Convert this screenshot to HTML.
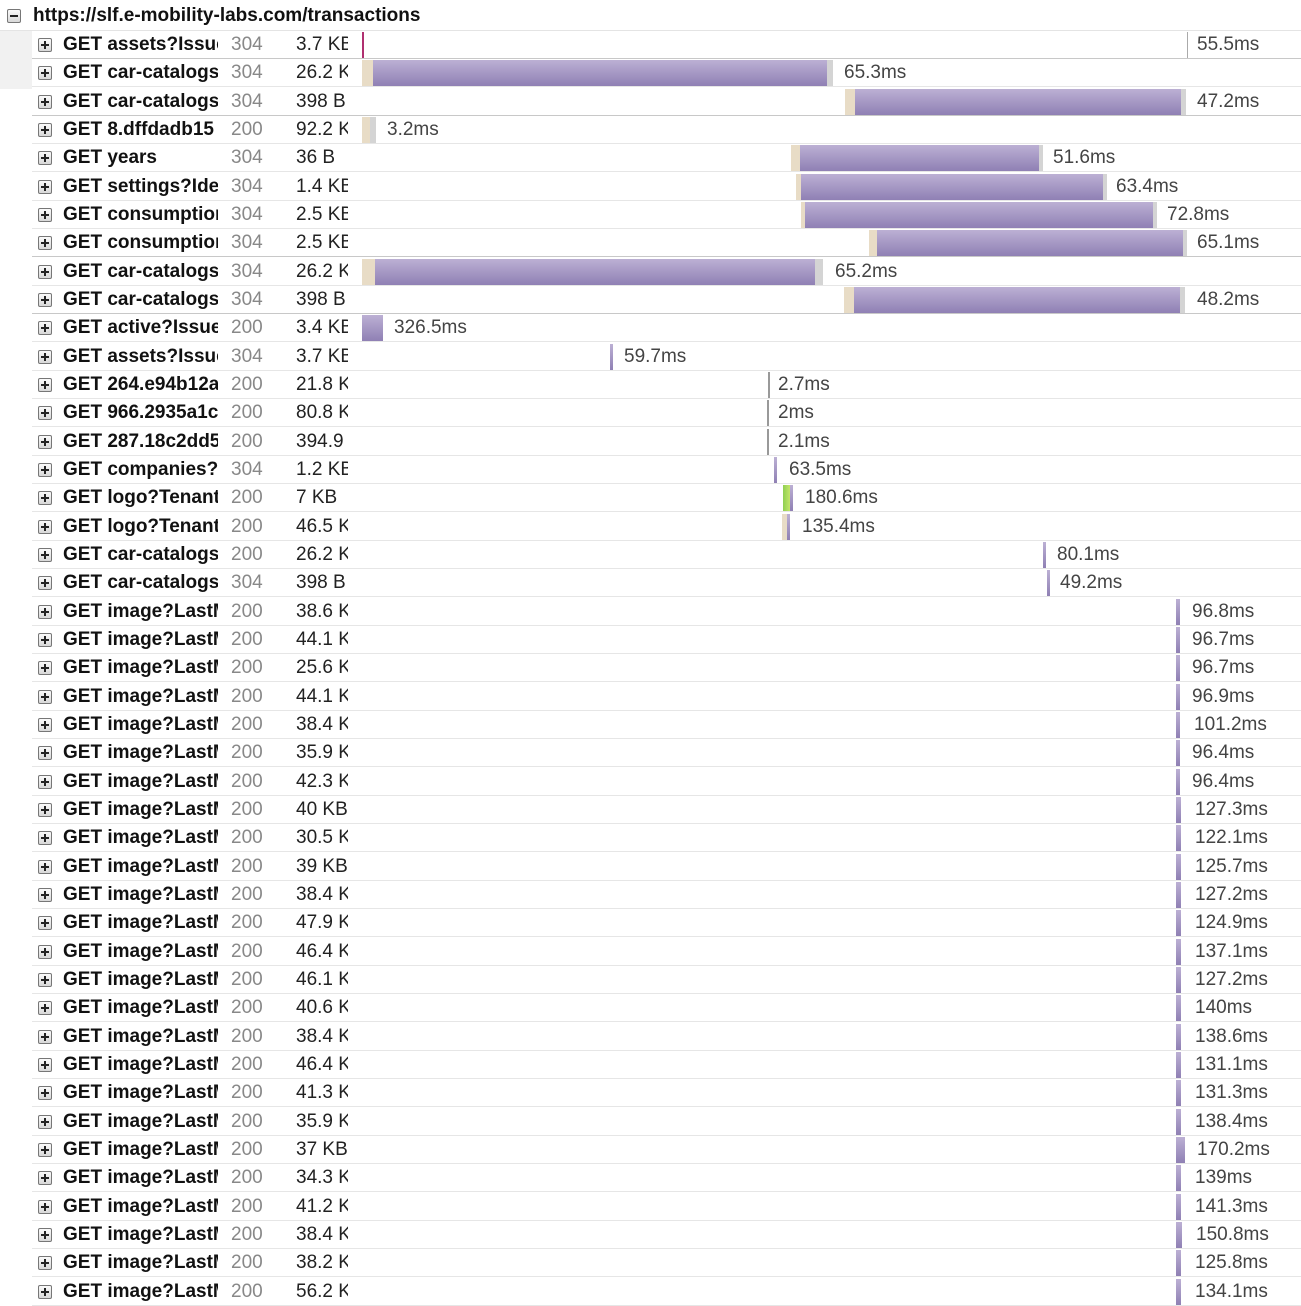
<!DOCTYPE html>
<html><head><meta charset="utf-8"><style>
body{margin:0;width:1301px;height:1302px;overflow:hidden;background:#fff;font-family:"Liberation Sans",sans-serif;position:relative}
.hd{position:absolute;left:0;top:0;width:1301px;height:30px;border-bottom:1px solid #e4e4e4}
.hd b{position:absolute;left:33px;top:5px;font-size:19px;color:#111}
.ic{position:absolute;width:12px;height:12px;border:1px solid #777;background:linear-gradient(#fafafa,#d8d8d8);border-radius:2px}
.ic:before{content:"";position:absolute;left:2px;top:5px;width:8px;height:2px;background:#222}
.ic.p:after{content:"";position:absolute;left:5px;top:2px;width:2px;height:8px;background:#222}
.r{position:absolute;left:32px;width:1269px;height:28px;border-bottom:1px solid #e6e6e6;font-size:19px;line-height:29px}
.r.d{border-bottom-color:#c8c8c8}
.r .ic{left:6px;top:8px}
.n{position:absolute;left:31px;width:155px;overflow:hidden;white-space:nowrap;font-weight:bold;color:#111}
.s{position:absolute;left:199px;color:#888}
.z{position:absolute;left:264px;width:52px;overflow:hidden;white-space:nowrap;color:#222}
.t{position:absolute;color:#444}
.w{position:absolute;top:2px;height:26px;background:#e8dcc6}
.pu{position:absolute;top:2px;height:26px;background:linear-gradient(#bcb0d4,#8f80b4)}
.g{position:absolute;top:2px;height:26px;background:#d4d4d4}
.gr{position:absolute;top:2px;height:26px;background:linear-gradient(90deg,#8fcf52,#c4e66a)}
</style></head><body>
<div style="position:absolute;left:0;top:31px;width:32px;height:58px;background:#f1f1f1"></div>
<div class="hd"><span class="ic" style="left:7px;top:9px"></span><b>https://slf.e-mobility-labs.com/transactions</b></div>

<div class="r d" style="top:30px"><span class="ic p"></span><span class="n">GET assets?IssuerId</span><span class="s">304</span><span class="z">3.7 KB</span><div class="pu" style="left:330px;width:2px;background:#b03070"></div><div class="g" style="left:1155px;width:1px;background:#aaa"></div><span class="t" style="left:1165px">55.5ms</span></div>
<div class="r" style="top:58px"><span class="ic p"></span><span class="n">GET car-catalogs</span><span class="s">304</span><span class="z">26.2 KB</span><div class="w" style="left:330px;width:11px"></div><div class="pu" style="left:341px;width:454px"></div><div class="g" style="left:795px;width:6px"></div><span class="t" style="left:812px">65.3ms</span></div>
<div class="r d" style="top:87px"><span class="ic p"></span><span class="n">GET car-catalogs</span><span class="s">304</span><span class="z">398 B</span><div class="w" style="left:813px;width:10px"></div><div class="pu" style="left:823px;width:326px"></div><div class="g" style="left:1149px;width:5px"></div><span class="t" style="left:1165px">47.2ms</span></div>
<div class="r" style="top:115px"><span class="ic p"></span><span class="n">GET 8.dffdadb15</span><span class="s">200</span><span class="z">92.2 KB</span><div class="w" style="left:330px;width:8px"></div><div class="g" style="left:338px;width:6px"></div><span class="t" style="left:355px">3.2ms</span></div>
<div class="r" style="top:143px"><span class="ic p"></span><span class="n">GET years</span><span class="s">304</span><span class="z">36 B</span><div class="w" style="left:759px;width:9px"></div><div class="pu" style="left:768px;width:239px"></div><div class="g" style="left:1007px;width:4px"></div><span class="t" style="left:1021px">51.6ms</span></div>
<div class="r" style="top:172px"><span class="ic p"></span><span class="n">GET settings?Identifier</span><span class="s">304</span><span class="z">1.4 KB</span><div class="w" style="left:764px;width:5px"></div><div class="pu" style="left:769px;width:302px"></div><div class="g" style="left:1071px;width:4px"></div><span class="t" style="left:1084px">63.4ms</span></div>
<div class="r" style="top:200px"><span class="ic p"></span><span class="n">GET consumption</span><span class="s">304</span><span class="z">2.5 KB</span><div class="w" style="left:769px;width:4px"></div><div class="pu" style="left:773px;width:348px"></div><div class="g" style="left:1121px;width:4px"></div><span class="t" style="left:1135px">72.8ms</span></div>
<div class="r d" style="top:228px"><span class="ic p"></span><span class="n">GET consumption</span><span class="s">304</span><span class="z">2.5 KB</span><div class="w" style="left:837px;width:8px"></div><div class="pu" style="left:845px;width:306px"></div><div class="g" style="left:1151px;width:4px"></div><span class="t" style="left:1165px">65.1ms</span></div>
<div class="r" style="top:257px"><span class="ic p"></span><span class="n">GET car-catalogs</span><span class="s">304</span><span class="z">26.2 KB</span><div class="w" style="left:330px;width:13px"></div><div class="pu" style="left:343px;width:440px"></div><div class="g" style="left:783px;width:8px"></div><span class="t" style="left:803px">65.2ms</span></div>
<div class="r d" style="top:285px"><span class="ic p"></span><span class="n">GET car-catalogs</span><span class="s">304</span><span class="z">398 B</span><div class="w" style="left:812px;width:10px"></div><div class="pu" style="left:822px;width:326px"></div><div class="g" style="left:1148px;width:5px"></div><span class="t" style="left:1165px">48.2ms</span></div>
<div class="r" style="top:313px"><span class="ic p"></span><span class="n">GET active?IssuerId</span><span class="s">200</span><span class="z">3.4 KB</span><div class="pu" style="left:330px;width:21px"></div><span class="t" style="left:362px">326.5ms</span></div>
<div class="r" style="top:342px"><span class="ic p"></span><span class="n">GET assets?IssuerId</span><span class="s">304</span><span class="z">3.7 KB</span><div class="pu" style="left:578px;width:3px"></div><span class="t" style="left:592px">59.7ms</span></div>
<div class="r" style="top:370px"><span class="ic p"></span><span class="n">GET 264.e94b12a</span><span class="s">200</span><span class="z">21.8 KB</span><div class="g" style="left:736px;width:2px;background:#999"></div><span class="t" style="left:746px">2.7ms</span></div>
<div class="r" style="top:398px"><span class="ic p"></span><span class="n">GET 966.2935a1c</span><span class="s">200</span><span class="z">80.8 KB</span><div class="g" style="left:735px;width:2px;background:#999"></div><span class="t" style="left:746px">2ms</span></div>
<div class="r" style="top:427px"><span class="ic p"></span><span class="n">GET 287.18c2dd5</span><span class="s">200</span><span class="z">394.9 B</span><div class="g" style="left:735px;width:2px;background:#999"></div><span class="t" style="left:746px">2.1ms</span></div>
<div class="r" style="top:455px"><span class="ic p"></span><span class="n">GET companies?</span><span class="s">304</span><span class="z">1.2 KB</span><div class="pu" style="left:742px;width:3px"></div><span class="t" style="left:757px">63.5ms</span></div>
<div class="r" style="top:483px"><span class="ic p"></span><span class="n">GET logo?TenantId</span><span class="s">200</span><span class="z">7 KB</span><div class="gr" style="left:751px;width:7px"></div><div class="pu" style="left:758px;width:3px"></div><span class="t" style="left:773px">180.6ms</span></div>
<div class="r" style="top:512px"><span class="ic p"></span><span class="n">GET logo?TenantId</span><span class="s">200</span><span class="z">46.5 KB</span><div class="w" style="left:750px;width:5px"></div><div class="pu" style="left:755px;width:3px"></div><span class="t" style="left:770px">135.4ms</span></div>
<div class="r" style="top:540px"><span class="ic p"></span><span class="n">GET car-catalogs</span><span class="s">200</span><span class="z">26.2 KB</span><div class="pu" style="left:1011px;width:3px"></div><span class="t" style="left:1025px">80.1ms</span></div>
<div class="r" style="top:568px"><span class="ic p"></span><span class="n">GET car-catalogs</span><span class="s">304</span><span class="z">398 B</span><div class="pu" style="left:1015px;width:3px"></div><span class="t" style="left:1028px">49.2ms</span></div>
<div class="r" style="top:597px"><span class="ic p"></span><span class="n">GET image?LastMod</span><span class="s">200</span><span class="z">38.6 KB</span><div class="pu" style="left:1144px;width:4px"></div><span class="t" style="left:1160px">96.8ms</span></div>
<div class="r" style="top:625px"><span class="ic p"></span><span class="n">GET image?LastMod</span><span class="s">200</span><span class="z">44.1 KB</span><div class="pu" style="left:1144px;width:4px"></div><span class="t" style="left:1160px">96.7ms</span></div>
<div class="r" style="top:653px"><span class="ic p"></span><span class="n">GET image?LastMod</span><span class="s">200</span><span class="z">25.6 KB</span><div class="pu" style="left:1144px;width:4px"></div><span class="t" style="left:1160px">96.7ms</span></div>
<div class="r" style="top:682px"><span class="ic p"></span><span class="n">GET image?LastMod</span><span class="s">200</span><span class="z">44.1 KB</span><div class="pu" style="left:1144px;width:4px"></div><span class="t" style="left:1160px">96.9ms</span></div>
<div class="r" style="top:710px"><span class="ic p"></span><span class="n">GET image?LastMod</span><span class="s">200</span><span class="z">38.4 KB</span><div class="pu" style="left:1144px;width:4px"></div><span class="t" style="left:1162px">101.2ms</span></div>
<div class="r" style="top:738px"><span class="ic p"></span><span class="n">GET image?LastMod</span><span class="s">200</span><span class="z">35.9 KB</span><div class="pu" style="left:1144px;width:4px"></div><span class="t" style="left:1160px">96.4ms</span></div>
<div class="r" style="top:767px"><span class="ic p"></span><span class="n">GET image?LastMod</span><span class="s">200</span><span class="z">42.3 KB</span><div class="pu" style="left:1144px;width:4px"></div><span class="t" style="left:1160px">96.4ms</span></div>
<div class="r" style="top:795px"><span class="ic p"></span><span class="n">GET image?LastMod</span><span class="s">200</span><span class="z">40 KB</span><div class="pu" style="left:1144px;width:5px"></div><span class="t" style="left:1163px">127.3ms</span></div>
<div class="r" style="top:823px"><span class="ic p"></span><span class="n">GET image?LastMod</span><span class="s">200</span><span class="z">30.5 KB</span><div class="pu" style="left:1144px;width:5px"></div><span class="t" style="left:1163px">122.1ms</span></div>
<div class="r" style="top:852px"><span class="ic p"></span><span class="n">GET image?LastMod</span><span class="s">200</span><span class="z">39 KB</span><div class="pu" style="left:1144px;width:5px"></div><span class="t" style="left:1163px">125.7ms</span></div>
<div class="r" style="top:880px"><span class="ic p"></span><span class="n">GET image?LastMod</span><span class="s">200</span><span class="z">38.4 KB</span><div class="pu" style="left:1144px;width:5px"></div><span class="t" style="left:1163px">127.2ms</span></div>
<div class="r" style="top:908px"><span class="ic p"></span><span class="n">GET image?LastMod</span><span class="s">200</span><span class="z">47.9 KB</span><div class="pu" style="left:1144px;width:5px"></div><span class="t" style="left:1163px">124.9ms</span></div>
<div class="r" style="top:937px"><span class="ic p"></span><span class="n">GET image?LastMod</span><span class="s">200</span><span class="z">46.4 KB</span><div class="pu" style="left:1144px;width:5px"></div><span class="t" style="left:1163px">137.1ms</span></div>
<div class="r" style="top:965px"><span class="ic p"></span><span class="n">GET image?LastMod</span><span class="s">200</span><span class="z">46.1 KB</span><div class="pu" style="left:1144px;width:5px"></div><span class="t" style="left:1163px">127.2ms</span></div>
<div class="r" style="top:993px"><span class="ic p"></span><span class="n">GET image?LastMod</span><span class="s">200</span><span class="z">40.6 KB</span><div class="pu" style="left:1144px;width:5px"></div><span class="t" style="left:1163px">140ms</span></div>
<div class="r" style="top:1022px"><span class="ic p"></span><span class="n">GET image?LastMod</span><span class="s">200</span><span class="z">38.4 KB</span><div class="pu" style="left:1144px;width:5px"></div><span class="t" style="left:1163px">138.6ms</span></div>
<div class="r" style="top:1050px"><span class="ic p"></span><span class="n">GET image?LastMod</span><span class="s">200</span><span class="z">46.4 KB</span><div class="pu" style="left:1144px;width:5px"></div><span class="t" style="left:1163px">131.1ms</span></div>
<div class="r" style="top:1078px"><span class="ic p"></span><span class="n">GET image?LastMod</span><span class="s">200</span><span class="z">41.3 KB</span><div class="pu" style="left:1144px;width:5px"></div><span class="t" style="left:1163px">131.3ms</span></div>
<div class="r" style="top:1107px"><span class="ic p"></span><span class="n">GET image?LastMod</span><span class="s">200</span><span class="z">35.9 KB</span><div class="pu" style="left:1144px;width:5px"></div><span class="t" style="left:1163px">138.4ms</span></div>
<div class="r" style="top:1135px"><span class="ic p"></span><span class="n">GET image?LastMod</span><span class="s">200</span><span class="z">37 KB</span><div class="pu" style="left:1144px;width:9px"></div><span class="t" style="left:1165px">170.2ms</span></div>
<div class="r" style="top:1163px"><span class="ic p"></span><span class="n">GET image?LastMod</span><span class="s">200</span><span class="z">34.3 KB</span><div class="pu" style="left:1144px;width:5px"></div><span class="t" style="left:1163px">139ms</span></div>
<div class="r" style="top:1192px"><span class="ic p"></span><span class="n">GET image?LastMod</span><span class="s">200</span><span class="z">41.2 KB</span><div class="pu" style="left:1144px;width:5px"></div><span class="t" style="left:1163px">141.3ms</span></div>
<div class="r" style="top:1220px"><span class="ic p"></span><span class="n">GET image?LastMod</span><span class="s">200</span><span class="z">38.4 KB</span><div class="pu" style="left:1144px;width:6px"></div><span class="t" style="left:1164px">150.8ms</span></div>
<div class="r" style="top:1248px"><span class="ic p"></span><span class="n">GET image?LastMod</span><span class="s">200</span><span class="z">38.2 KB</span><div class="pu" style="left:1144px;width:5px"></div><span class="t" style="left:1163px">125.8ms</span></div>
<div class="r" style="top:1277px"><span class="ic p"></span><span class="n">GET image?LastMod</span><span class="s">200</span><span class="z">56.2 KB</span><div class="pu" style="left:1144px;width:5px"></div><span class="t" style="left:1163px">134.1ms</span></div>
</body></html>
